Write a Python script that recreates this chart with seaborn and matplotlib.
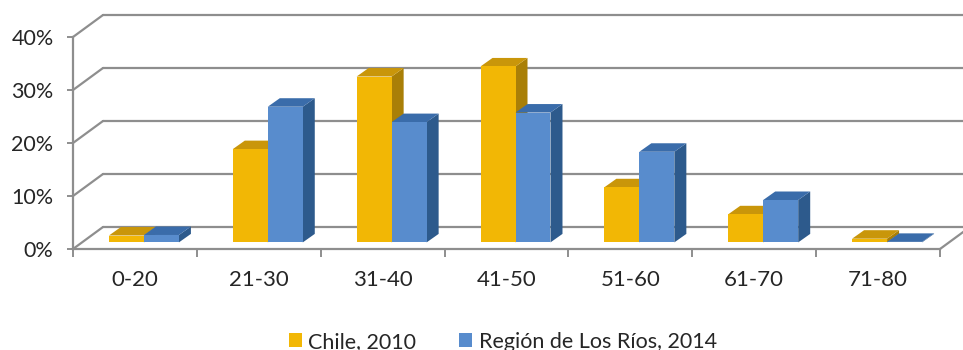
import numpy as np
import pandas as pd
import matplotlib
matplotlib.use("Agg")
import matplotlib.pyplot as plt
from matplotlib.patches import Polygon, Patch
import seaborn as sns

# ===================== data =====================
age_groups = ["0-20", "21-30", "31-40", "41-50", "51-60", "61-70", "71-80"]
chile_2010 = [1.3, 17.6, 31.3, 33.2, 10.4, 5.3, 0.7]
los_rios_2014 = [1.4, 25.6, 22.7, 24.5, 17.1, 8.0, 0.1]
series_names = ["Chile, 2010", "Región de Los Ríos, 2014"]
y_ticks = [0, 10, 20, 30, 40]

# ===================== style =====================
front_colors = ["#F2B705", "#588CCD"]
top_colors = ["#C9960A", "#3A6CAA"]
side_colors = ["#A97F07", "#2D5A8C"]
grid_color = "#8E8E8E"
text_color = "#262626"

sns.set_style("white")
plt.rcParams["font.family"] = ["Lato", "DejaVu Sans"]

df = pd.DataFrame({
    "edad": age_groups * 2,
    "pct": chile_2010 + los_rios_2014,
    "serie": [series_names[0]] * len(age_groups) + [series_names[1]] * len(age_groups),
})

fig = plt.figure(figsize=(9.63, 3.5), dpi=100)
ax = fig.add_axes([73 / 963, (350 - 249) / 350, 867 / 963, 212 / 350])

sns.barplot(data=df, x="edad", y="pct", hue="serie", palette=front_colors,
            saturation=1, width=0.565, gap=0, linewidth=0, legend=False, ax=ax)
ax.set_xlim(-0.5, len(age_groups) - 0.5)
ax.set_ylim(0, 40)

# pixel -> data conversion for the fake 3D depth
px_x = len(age_groups) / 867
px_y = 40 / 212
wall_dx, wall_dy = 30 * px_x, 22 * px_y
bar_dx, bar_dy = 9 * px_x, 6.6 * px_y
deep_dx, deep_dy = 12 * px_x, 8.5 * px_y

# back wall + left wall grid
x_left, x_right = ax.get_xlim()
for v in y_ticks:
    ax.plot([x_left + wall_dx, x_right + wall_dx + 1], [v + wall_dy, v + wall_dy],
            color=grid_color, lw=1.6, zorder=0.5, clip_on=False)
    ax.plot([x_left, x_left + wall_dx], [v, v + wall_dy],
            color=grid_color, lw=1.6, zorder=0.5, clip_on=False)
ax.plot([x_right, x_right + wall_dx], [0, wall_dy], color=grid_color, lw=1.6,
        zorder=0.5, clip_on=False)

# extrude bars
n = len(age_groups)
bars = []
for i, p in enumerate(ax.patches):
    bars.append((p.get_x(), i // n, p))
bars.sort(key=lambda b: b[0])
for k, (_, s, p) in enumerate(bars):
    x0 = p.get_x() + bar_dx
    y0 = bar_dy
    w = p.get_width()
    h = p.get_height()
    p.set_x(x0)
    p.set_y(y0)
    z = 3 + k * 0.1
    p.set_zorder(z + 0.02)
    p.set_clip_on(False)
    top = Polygon([(x0, y0 + h), (x0 + w, y0 + h), (x0 + w + deep_dx, y0 + h + deep_dy),
                   (x0 + deep_dx, y0 + h + deep_dy)], closed=True,
                  facecolor=top_colors[s], edgecolor="none", zorder=z, clip_on=False)
    side = Polygon([(x0 + w, y0), (x0 + w + deep_dx, y0 + deep_dy),
                    (x0 + w + deep_dx, y0 + h + deep_dy), (x0 + w, y0 + h)], closed=True,
                   facecolor=side_colors[s], edgecolor="none", zorder=z, clip_on=False)
    ax.add_patch(side)
    ax.add_patch(top)

# axes
for sp in ["top", "right"]:
    ax.spines[sp].set_visible(False)
for sp in ["left", "bottom"]:
    ax.spines[sp].set_color(grid_color)
    ax.spines[sp].set_linewidth(1.6)
    ax.spines[sp].set_zorder(1)

ax.set_yticks(y_ticks)
ax.set_yticklabels([f"{v}%" for v in y_ticks])
ax.set_xticks(range(n))
ax.set_xticklabels(age_groups)
ax.set_xticks(np.arange(-0.5, n, 1), minor=True)
ax.tick_params(axis="y", left=True, length=4, width=1.4, color=grid_color, pad=10,
               labelsize=15.5, labelcolor=text_color)
ax.tick_params(axis="x", which="major", bottom=True, length=0, pad=15,
               labelsize=16, labelcolor=text_color)
ax.tick_params(axis="x", which="minor", bottom=True, length=6, width=1.4, color=grid_color)
ax.set_xlabel("")
ax.set_ylabel("")

handles = [Patch(facecolor=c, edgecolor="none") for c in front_colors]
fig.legend(handles, series_names, loc="lower center", bbox_to_anchor=(503 / 963, -0.06),
           ncol=2, frameon=False, handlelength=0.6, handleheight=0.6, handletextpad=0.3,
           columnspacing=2.0, fontsize=15.5, labelcolor=text_color)

fig.savefig("out.png", dpi=100, facecolor="white")
